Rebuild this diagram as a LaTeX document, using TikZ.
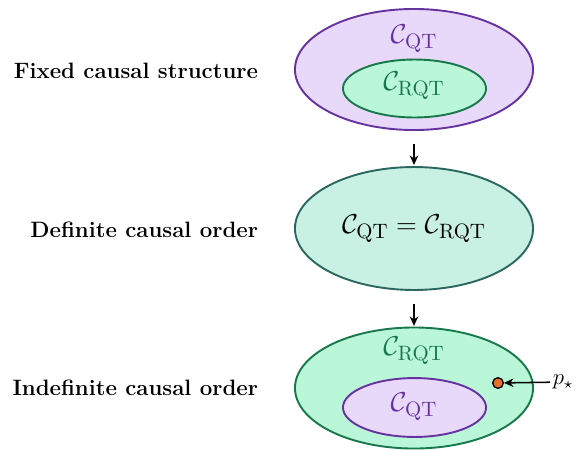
\documentclass[tikz,border=0pt]{standalone}
\usetikzlibrary{shapes.geometric,arrows.meta}
\definecolor{qtline}{HTML}{6532A0}
\definecolor{qtfill}{HTML}{E8D8FA}
\definecolor{rqtline}{HTML}{17784A}
\definecolor{rqtfill}{HTML}{BAF6D8}
\definecolor{eqline}{HTML}{2A675E}
\definecolor{eqfill}{HTML}{C8F0E3}
\definecolor{dotfill}{HTML}{E8702A}

\begin{document}
\begin{tikzpicture}[x=0.5263pt, y=-0.5263pt, line width=1pt,
  big/.style = {draw, ellipse, minimum width=125.3pt, minimum height=63.7pt, inner sep=0pt},
  small/.style = {draw, ellipse, minimum width=75.3pt, minimum height=30.5pt, inner sep=0pt},
  qt/.style = {draw=qtline, fill=qtfill},
  rqt/.style = {draw=rqtline, fill=rqtfill},
  sym/.style = {font=\fontsize{15.3}{18}\selectfont},
  lab/.style = {font=\fontsize{11.7}{14}\selectfont\bfseries, anchor=east, inner sep=0pt},
  arr/.style = {-{Stealth[length=5pt,width=4.5pt]}, line width=0.8pt}]
\useasboundingbox (0,0) rectangle (581,449);
% fixed causal structure
\node[big, qt] (1) at (414,69.5) {};
\node[small, rqt] (2) at (414.5,88.5) {};
\node[text=qtline, sym] (1t) at (414,39) {$\mathcal{C}_{\rm QT}$};
\node[text=rqtline, sym] (2t) at (414,86) {$\mathcal{C}_{\rm RQT}$};
\node[lab] (f) at (259,71) {Fixed causal structure};
% definite causal order
\node[big, draw=eqline, fill=eqfill, minimum height=64.7pt, sym] (3) at (414,228.5) {$\mathcal{C}_{\rm QT}=\mathcal{C}_{\rm RQT}$};
\node[lab] (d) at (259,230) {Definite causal order};
% indefinite causal order
\node[big, rqt] (4) at (414,388) {};
\node[small, qt, minimum height=31pt] (5) at (414.5,407.5) {};
\node[text=rqtline, sym] (4t) at (414,351) {$\mathcal{C}_{\rm RQT}$};
\node[text=qtline, sym] (5t) at (414,407) {$\mathcal{C}_{\rm QT}$};
\node[lab] (i) at (259,388) {Indefinite causal order};
\node[draw=black, fill=dotfill, circle, minimum size=5.6pt, inner sep=0pt, line width=0.7pt] (p) at (498,383) {};
\node[anchor=west, inner sep=1pt, font=\large] (pl) at (550,382) {$p_\star$};
\draw[arr] (pl) -- (p);
% arrows
\draw[arr] (1.south) ++(0,13) coordinate (a1) -- ++(0,21) coordinate (b1);
\draw[arr] (3.south) ++(0,13) coordinate (a2) -- ++(0,22) coordinate (b2);
\end{tikzpicture}
\end{document}
